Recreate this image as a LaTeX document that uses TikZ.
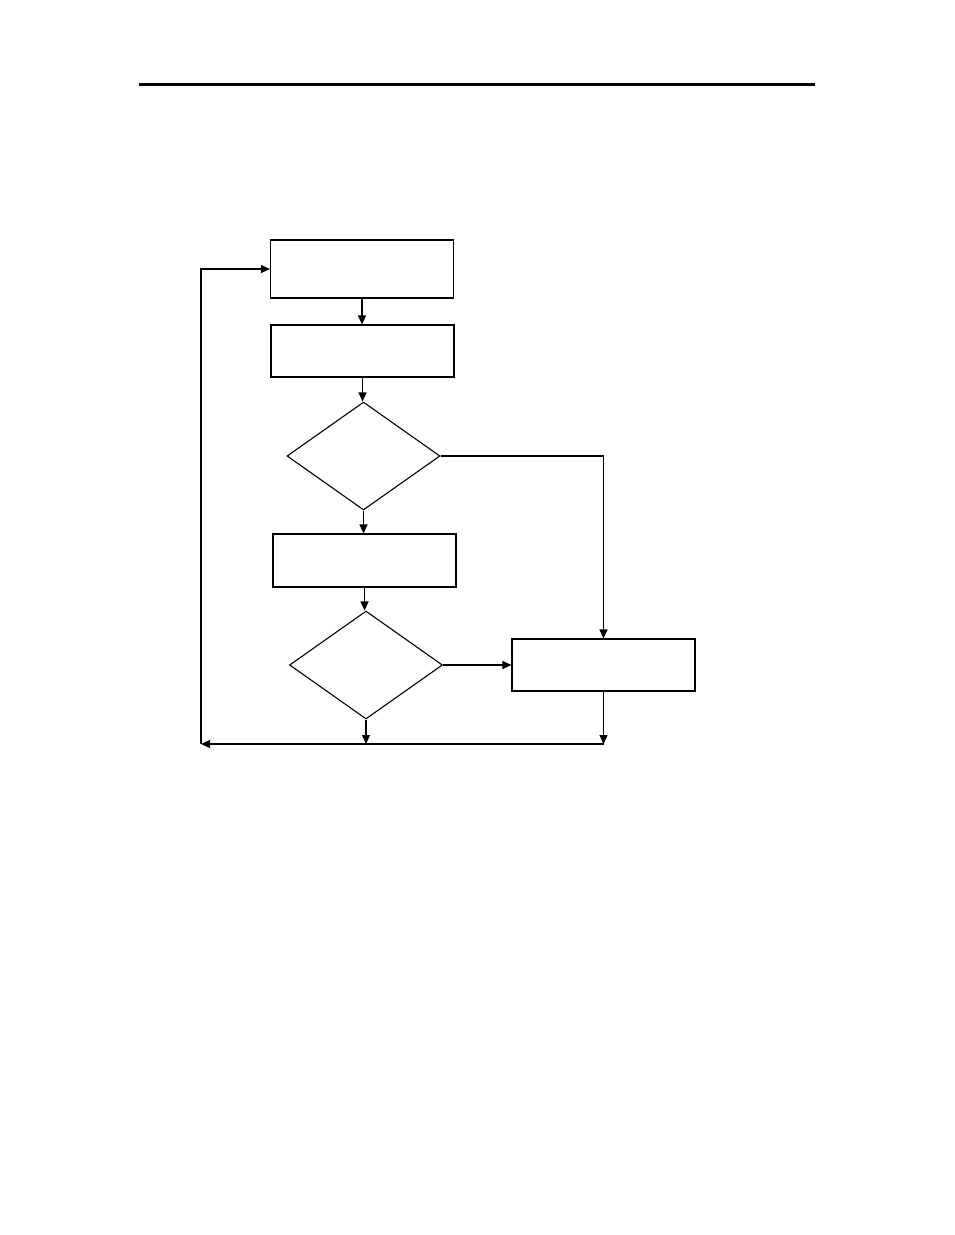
\documentclass[tikz,border=0pt]{standalone}
\usetikzlibrary{arrows.meta,shapes.geometric}
\tikzset{
  procbox/.style={draw, line width=1.1pt, minimum width=183pt, minimum height=52pt, inner sep=0pt},
  testbox/.style={draw, diamond, line width=1.1pt, minimum width=153pt, minimum height=108pt, inner sep=0pt},
  flow/.style={line width=1.1pt, -{Triangle[length=9pt,width=8pt]}},
}
\begin{document}
\begin{tikzpicture}[x=1pt,y=-1pt]
  \useasboundingbox (0,0) rectangle (954,1235);

  %%%%% HEAD RULE %%%%%
  \draw[line width=3pt] (139,84) -- (815,84);

  %%%%% BOXES %%%%%
  \node[procbox, minimum height=58pt] (init) at (362,269) {};
  \node[procbox] (read) at (362.5,351) {};
  \node[testbox] (testA) at (363.5,456) {};
  \node[procbox, minimum height=53pt] (work) at (364.5,560.5) {};
  \node[testbox] (testB) at (366,665) {};
  \node[procbox] (done) at (603.5,665) {};

  \coordinate (loopR) at (603.5,744);
  \coordinate (loopM) at (366,744);
  \coordinate (loopL) at (201,744);

  %%%%% FLOW %%%%%
  \draw[flow] (init.south) -- (init.south |- read.north);
  \draw[flow] (read.south) -- (read.south |- testA.north);
  \draw[flow] (testA.south) -- (testA.south |- work.north);
  \draw[flow] (work.south) -- (work.south |- testB.north);
  \draw[flow] (testA.east) -| (done.north);
  \draw[flow] (testB.east) -- (done.west);
  \draw[flow] (testB.south) -- (loopM);
  \draw[flow] (done.south) -- (loopR);
  \draw[flow] (loopR) -- (loopL);
  \draw[flow] (loopL) |- (init.west);
\end{tikzpicture}
\end{document}
